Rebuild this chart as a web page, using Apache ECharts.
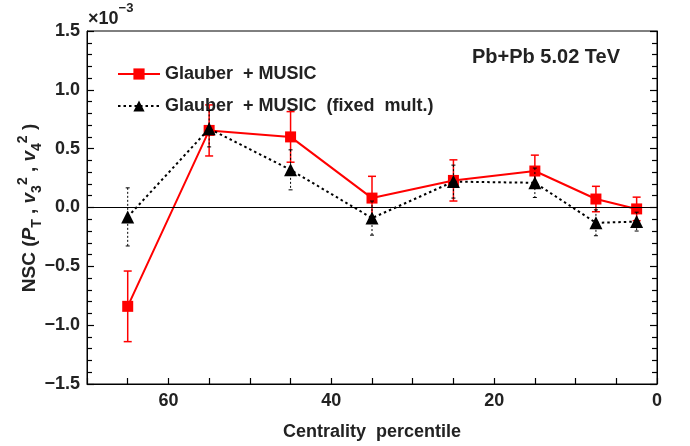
<!DOCTYPE html>
<html>
<head>
<meta charset="utf-8">
<script src="https://cdn.jsdelivr.net/npm/echarts@6/dist/echarts.min.js"></script>
<style>html,body{margin:0;padding:0;background:#fff}#c{width:690px;height:446px}</style>
</head>
<body>
<div id="c"></div>
<script>
// Data (values in units of 1e-3)
const centrality = [65, 55, 45, 35, 25, 15, 7.5, 2.5];
const musicVals  = [-0.84, 0.655, 0.60, 0.08, 0.23, 0.31, 0.072, -0.012];
const musicErrs  = [0.30, 0.217, 0.215, 0.185, 0.175, 0.135, 0.108, 0.10];
const fixedVals  = [-0.08, 0.67, 0.32, -0.09, 0.22, 0.21, -0.13, -0.12];
const fixedErrs  = [0.247, 0.155, 0.17, 0.145, 0.14, 0.125, 0.11, 0.08];
const xTickLabels = ['0', '20', '40', '60'];
const yTickLabels = ['\u22121.5', '\u22121.0', '\u22120.5', '0.0', '0.5', '1.0', '1.5'];
const seriesNames = ['Glauber  + MUSIC', 'Glauber  + MUSIC  (fixed  mult.)'];

const FONT = '"Liberation Sans", Arial, sans-serif';
const TXT = '#222';
const chart = echarts.init(document.getElementById('c'), null, {renderer: 'canvas'});

function errRender(color, width, dash, hw) {
  return function (params, api) {
    const x = api.value(0), y = api.value(1), e = api.value(2);
    const t = api.coord([x, y + e]), b = api.coord([x, y - e]);
    const st = {stroke: color, lineWidth: width, lineDash: dash};
    const cs = {stroke: color, lineWidth: width};
    return {type: 'group', children: [
      {type: 'line', shape: {x1: t[0], y1: t[1], x2: b[0], y2: b[1]}, style: st},
      {type: 'line', shape: {x1: t[0] - hw, y1: t[1], x2: t[0] + hw, y2: t[1]}, style: cs},
      {type: 'line', shape: {x1: b[0] - hw, y1: b[1], x2: b[0] + hw, y2: b[1]}, style: cs}
    ]};
  };
}

const redData = centrality.map((c, i) => [c, musicVals[i]]);
const blkData = centrality.map((c, i) => [c, fixedVals[i]]);
const redErr = centrality.map((c, i) => [c, musicVals[i], musicErrs[i]]);
const blkErr = centrality.map((c, i) => [c, fixedVals[i], fixedErrs[i]]);

const tickStyle = {color: '#000', width: 1.2};

const option = {
  animation: false,
  backgroundColor: '#fff',
  grid: {left: 87, right: 33, top: 31, bottom: 62, show: true, borderColor: '#000', borderWidth: 1, backgroundColor: 'transparent'},
  legend: {
    orient: 'vertical', left: 112, top: 60, itemWidth: 42, itemHeight: 14, itemGap: 14,
    data: seriesNames,
    textStyle: {fontFamily: FONT, fontSize: 18, fontWeight: 'bold', color: TXT, lineHeight: 17},
    selectedMode: false
  },
  xAxis: [{
    type: 'value', min: 0, max: 70, interval: 5, inverse: true,
    name: 'Centrality  percentile', nameLocation: 'middle', nameGap: 39,
    nameTextStyle: {fontFamily: FONT, fontSize: 18, fontWeight: 'bold', color: TXT},
    axisLine: {show: true, onZero: false, lineStyle: {color: '#000', width: 1}},
    axisTick: {show: true, inside: true, length: 6, lineStyle: tickStyle},
    splitLine: {show: false},
    axisLabel: {
      margin: 8, fontFamily: FONT, fontSize: 18, fontWeight: 'bold', color: TXT,
      formatter: v => (v % 20 === 0 && xTickLabels.indexOf(String(v)) >= 0) ? String(v) : ''
    }
  }],
  yAxis: [{
    type: 'value', min: -1.5, max: 1.5, interval: 0.5,
    axisLine: {show: true, onZero: false, lineStyle: {color: '#000', width: 1}},
    axisTick: {show: true, inside: true, length: 7, lineStyle: tickStyle},
    minorTick: {show: true, splitNumber: 5, length: 5, lineStyle: tickStyle},
    splitLine: {show: false},
    axisLabel: {
      margin: 7, fontFamily: FONT, fontSize: 18, fontWeight: 'bold', color: TXT,
      formatter: v => yTickLabels[Math.round((v + 1.5) / 0.5)]
    }
  }, {
    type: 'value', min: -1.5, max: 1.5, interval: 0.5, position: 'right',
    axisLine: {show: true, onZero: false, lineStyle: {color: '#000', width: 1}},
    axisTick: {show: true, inside: true, length: 7, lineStyle: tickStyle},
    minorTick: {show: true, splitNumber: 5, length: 5, lineStyle: tickStyle},
    splitLine: {show: false},
    axisLabel: {show: false}
  }],
  series: [
    {
      type: 'custom', name: 'redErr', data: redErr, z: 2,
      renderItem: errRender('#ff0000', 1.5, null, 4), silent: true
    },
    {
      type: 'line', name: seriesNames[0], data: redData, z: 3,
      symbol: 'rect', symbolSize: 11,
      lineStyle: {color: '#ff0000', width: 2},
      itemStyle: {color: '#ff0000'},
      markLine: {
        silent: true, symbol: ['none', 'none'], label: {show: false},
        lineStyle: {color: '#000', width: 1.2, type: 'solid'},
        data: [{yAxis: 0}]
      }
    },
    {
      type: 'custom', name: 'blkErr', data: blkErr, z: 4,
      renderItem: errRender('#000', 1, [2, 2], 2), silent: true
    },
    {
      type: 'line', name: seriesNames[1], data: blkData, z: 5,
      symbol: 'triangle', symbolSize: 13,
      lineStyle: {color: '#000', width: 2, type: [2.5, 3]},
      itemStyle: {color: '#000'}
    }
  ],
  graphic: [
    {
      type: 'text', left: 88, top: 2,
      style: {
        text: '{a|\u00d710}{b|\u22123}',
        rich: {
          a: {fontFamily: FONT, fontSize: 18, fontWeight: 'bold', fill: TXT, lineHeight: 26, verticalAlign: 'bottom'},
          b: {fontFamily: FONT, fontSize: 13, fontWeight: 'bold', fill: TXT, lineHeight: 26, verticalAlign: 'top'}
        }
      }
    },
    {
      type: 'text', right: 70, top: 47,
      style: {text: 'Pb+Pb 5.02 TeV', fontFamily: FONT, fontSize: 20, fontWeight: 'bold', fill: TXT}
    },
    {
      type: 'text', x: 30, y: 208, rotation: Math.PI / 2,
      style: {
        text: '{n|NSC (}{i|P}{sb|T}{n| , }{i|v}{sb|3}{sp|2}{n| , }{i|v}{sb|4}{sp|2}{n| )}',
        align: 'center', verticalAlign: 'middle',
        rich: {
          n: {fontFamily: FONT, fontSize: 19, fontWeight: 'bold', fill: TXT, lineHeight: 32, verticalAlign: 'middle'},
          i: {fontFamily: FONT, fontSize: 19, fontWeight: 'bold', fontStyle: 'italic', fill: TXT, lineHeight: 32, verticalAlign: 'middle'},
          sb: {fontFamily: FONT, fontSize: 14, fontWeight: 'bold', fill: TXT, lineHeight: 32, verticalAlign: 'bottom', padding: [0, 0, 2, 0]},
          sp: {fontFamily: FONT, fontSize: 14, fontWeight: 'bold', fill: TXT, lineHeight: 32, verticalAlign: 'top', padding: [2, 0, 0, 0]}
        }
      }
    }
  ]
};
chart.setOption(option);
</script>
</body>
</html>
